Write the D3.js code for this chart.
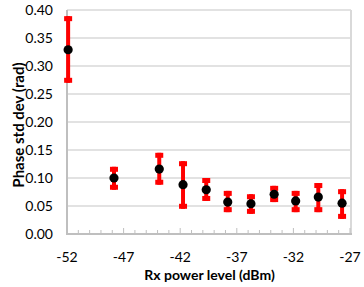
<!DOCTYPE html>
<html>
<head>
<meta charset="utf-8">
<script src="https://cdn.jsdelivr.net/npm/d3@7"></script>
<style>
  html, body { margin: 0; padding: 0; background: #fff; }
  svg text { font-family: Lato, "Liberation Sans", sans-serif; fill: #000; }
</style>
</head>
<body>
<div id="chart"></div>
<script>
// Phase std dev vs Rx power level — mean with min/max error bars

// ---- Data ----
const rxPower = [-51.9, -47.85, -43.85, -41.75, -39.7, -37.8, -35.75, -33.7, -31.8, -29.8, -27.7];
const phaseMean = [0.329, 0.100, 0.116, 0.088, 0.079, 0.057, 0.054, 0.071, 0.059, 0.066, 0.055];
const phaseHigh = [0.389, 0.120, 0.145, 0.130, 0.100, 0.077, 0.071, 0.086, 0.077, 0.091, 0.080];
const phaseLow  = [0.270, 0.079, 0.088, 0.045, 0.059, 0.039, 0.036, 0.057, 0.039, 0.039, 0.027];
const xTicks = [-52, -47, -42, -37, -32, -27];
const yTicks = [0, 0.05, 0.10, 0.15, 0.20, 0.25, 0.30, 0.35, 0.40];

const W = 364, H = 287;
const margin = { top: 10, right: 14, bottom: 53, left: 67 };
const width = W - margin.left - margin.right;
const height = H - margin.top - margin.bottom;

const svg = d3.select("#chart").append("svg")
  .attr("width", W)
  .attr("height", H);
const g = svg.append("g")
  .attr("transform", `translate(${margin.left},${margin.top})`);

// ---- Scales ----
const x = d3.scaleLinear().domain([-52, -27]).range([0, width]);
const y = d3.scaleLinear().domain([0, 0.4]).range([height, 0]);

const points = rxPower.map((v, i) => ({
  x: v, mean: phaseMean[i], hi: phaseHigh[i], lo: phaseLow[i]
}));

// ---- Gridlines ----
g.selectAll("line.grid")
  .data(yTicks.filter(t => t > 0))
  .join("line")
  .attr("class", "grid")
  .attr("x1", 0).attr("x2", width + 1)
  .attr("y1", d => y(d)).attr("y2", d => y(d))
  .attr("stroke", "#d9d9d9")
  .attr("stroke-width", 1.5);

// right border
g.append("line")
  .attr("x1", width + 1).attr("x2", width + 1)
  .attr("y1", y(0.4)).attr("y2", y(0))
  .attr("stroke", "#d9d9d9")
  .attr("stroke-width", 2);

// ---- X axis (ticks point inward) ----
const minorTicks = d3.range(-52, -26, 1);
g.selectAll("line.xtick")
  .data(minorTicks)
  .join("line")
  .attr("class", "xtick")
  .attr("x1", d => x(d)).attr("x2", d => x(d))
  .attr("y1", height)
  .attr("y2", d => height - ((d + 52) % 5 === 0 ? 6 : 4))
  .attr("stroke", "#bfbfbf")
  .attr("stroke-width", 1);

g.append("line")
  .attr("x1", -1).attr("x2", width + 2)
  .attr("y1", height).attr("y2", height)
  .attr("stroke", "#bfbfbf")
  .attr("stroke-width", 2);

g.append("line")
  .attr("x1", 0).attr("x2", 0)
  .attr("y1", y(0.4)).attr("y2", height)
  .attr("stroke", "#bfbfbf")
  .attr("stroke-width", 2);

g.selectAll("text.xlabel")
  .data(xTicks)
  .join("text")
  .attr("class", "xlabel")
  .attr("x", d => x(d))
  .attr("y", height + 28)
  .attr("text-anchor", "middle")
  .style("font-size", "14px")
  .text(d => d);

g.selectAll("text.ylabel")
  .data(yTicks)
  .join("text")
  .attr("class", "ylabel")
  .attr("x", -14)
  .attr("y", d => y(d) + 5)
  .attr("text-anchor", "end")
  .style("font-size", "14px")
  .text(d => d3.format(".2f")(d));

// ---- Axis titles ----
g.append("text")
  .attr("x", width / 2 + 1)
  .attr("y", height + 46)
  .attr("text-anchor", "middle")
  .style("font-size", "14px")
  .style("font-weight", "bold")
  .text("Rx power level (dBm)");

svg.append("text")
  .attr("transform", `translate(24,${margin.top + height / 2 + 3}) rotate(-90)`)
  .attr("text-anchor", "middle")
  .style("font-size", "15px")
  .style("font-weight", "bold")
  .text("Phase std dev (rad)");

// ---- Error bars ----
const capW = 8, capH = 5;
const bars = g.selectAll("g.err")
  .data(points)
  .join("g")
  .attr("class", "err");

bars.append("line")
  .attr("x1", d => x(d.x)).attr("x2", d => x(d.x))
  .attr("y1", d => y(d.hi)).attr("y2", d => y(d.lo))
  .attr("stroke", "#ff0000")
  .attr("stroke-width", 4);

bars.append("rect")
  .attr("x", d => x(d.x) - capW / 2)
  .attr("y", d => y(d.hi))
  .attr("width", capW).attr("height", capH)
  .attr("fill", "#ff0000");

bars.append("rect")
  .attr("x", d => x(d.x) - capW / 2)
  .attr("y", d => y(d.lo) - capH)
  .attr("width", capW).attr("height", capH)
  .attr("fill", "#ff0000");

// ---- Mean markers ----
g.selectAll("circle.mean")
  .data(points)
  .join("circle")
  .attr("class", "mean")
  .attr("cx", d => x(d.x))
  .attr("cy", d => y(d.mean))
  .attr("r", 4.6)
  .attr("fill", "#000");
</script>
</body>
</html>
